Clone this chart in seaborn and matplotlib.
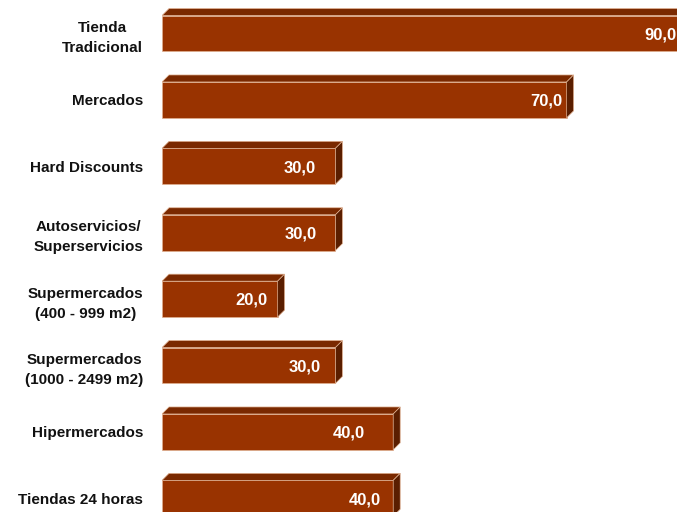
import matplotlib
matplotlib.use("Agg")
import matplotlib.pyplot as plt
from matplotlib.patches import Polygon
import seaborn as sns
import pandas as pd

categories = [
    "Tienda\nTradicional",
    "Mercados",
    "Hard Discounts",
    "Autoservicios/\nSuperservicios",
    "Supermercados\n(400 - 999 m2)",
    "Supermercados\n(1000 - 2499 m2)",
    "Hipermercados",
    "Tiendas 24 horas",
]
values = [90.0, 70.0, 30.0, 30.0, 20.0, 30.0, 40.0, 40.0]
value_labels = ["90,0", "70,0", "30,0", "30,0", "20,0", "30,0", "40,0", "40,0"]

# how far (px) each value label sits back from the bar's end
label_inset_px = [22, 20, 36, 35, 26, 31, 44, 28]

FRONT = "#993300"
TOP = "#7a2900"
SIDE = "#5a1e00"
EDGE = "#e0b090"

sns.set_theme(style="white")
plt.rcParams["font.family"] = ["Liberation Sans", "DejaVu Sans"]

W, H, DPI = 677, 512, 100
fig = plt.figure(figsize=(W / DPI, H / DPI), dpi=DPI)
ax_left_px = 162
ax = fig.add_axes([ax_left_px / W, 0, 1 - ax_left_px / W, 1])

df = pd.DataFrame({"cat": categories, "val": values})
sns.barplot(data=df, x="val", y="cat", orient="h", color=FRONT,
            saturation=1, width=0.54, ax=ax, linewidth=0)

px_per_unit = 5.78
x_max = (W - ax_left_px) / px_per_unit
pitch = 66.4
first_center = 33.5
ax.set_xlim(0, x_max)
ax.set_ylim((H - first_center) / pitch, -first_center / pitch)

# 3D depth in data units
depth_px = 7
dx = depth_px / px_per_unit
dy = depth_px / pitch

for patch in ax.patches[:len(values)]:
    x0, y0 = patch.get_x(), patch.get_y()
    w, h = patch.get_width(), patch.get_height()
    top_y = y0            # visual top (y axis inverted)
    bot_y = y0 + h
    x1 = x0 + w
    top = Polygon([(x0, top_y), (x0 + dx, top_y - dy), (x1 + dx, top_y - dy), (x1, top_y)],
                  closed=True, facecolor=TOP, edgecolor=EDGE, linewidth=0.5, zorder=3)
    side = Polygon([(x1, top_y), (x1 + dx, top_y - dy), (x1 + dx, bot_y - dy), (x1, bot_y)],
                   closed=True, facecolor=SIDE, edgecolor=EDGE, linewidth=0.5, zorder=3)
    ax.add_patch(top)
    ax.add_patch(side)
    patch.set_edgecolor(EDGE)
    patch.set_linewidth(0.5)
    patch.set_zorder(2)

for i, (v, lab) in enumerate(zip(values, value_labels)):
    ax.text(v - label_inset_px[i] / px_per_unit, i + 0.02, lab, color="white",
            fontsize=12, fontweight="bold", ha="center", va="center", zorder=5)

ax.set_xlabel("")
ax.set_ylabel("")
ax.set_xticks([])
ax.set_yticks(range(len(categories)))
ax.set_yticklabels(categories, fontsize=11, fontweight="bold", color="#111111",
                   multialignment="center", linespacing=1.55)
ax.tick_params(axis="y", length=0, pad=13.5)
for s in ax.spines.values():
    s.set_visible(False)

fig.savefig("out.png", dpi=DPI)
